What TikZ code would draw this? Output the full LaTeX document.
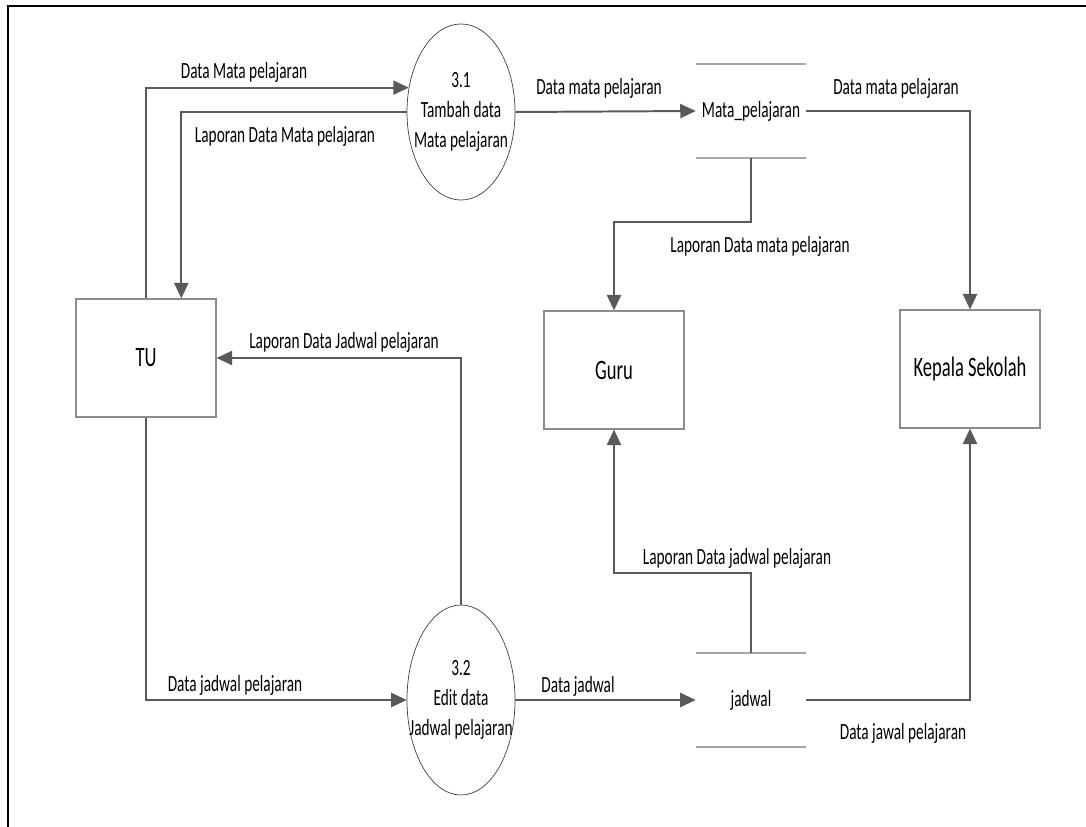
\documentclass[tikz,border=0pt]{standalone}
\usepackage{fontspec}
\setmainfont{Carlito}[FakeStretch=0.66]
\usetikzlibrary{arrows.meta,positioning,calc,shapes.geometric}
\definecolor{lineg}{HTML}{595959}
\definecolor{boxg}{HTML}{8C8C8C}
\definecolor{storeg}{HTML}{A6A6A6}

\begin{document}
\begin{tikzpicture}[x=0.025cm,y=-0.025cm,
  ent/.style={draw=boxg,line width=0.8pt,minimum width=3.5cm,minimum height=2.95cm,
    font=\fontsize{20}{24}\selectfont},
  proc/.style={draw=black!75,ellipse,line width=0.5pt,minimum width=2.7cm,inner sep=0pt},
  store/.style={minimum width=2.75cm,minimum height=2.35cm,inner sep=0pt,
    font=\fontsize{16.5}{20}\selectfont},
  storeline/.style={storeg,line width=1.2pt},
  lbl/.style={font=\fontsize{16.5}{21.3}\selectfont,inner sep=0pt,align=center},
  arr/.style={-{Triangle[length=11pt,width=10pt]},line width=1.4pt,lineg}]
\useasboundingbox (0,0) rectangle (1086,827);
\draw[line width=2.1pt] (8,827) -- (8,6) -- (1086,6);
% entities
\node[ent] (tu) at (146,358) {TU};
\node[ent] (guru) at (614,370) {Guru};
\node[ent] (ks) at (970,369) {Kepala Sekolah};
% processes
\node[proc,minimum height=4.4cm] (p31) at (461,112) {};
\node[lbl] (t31) at (p31) {3.1\\Tambah data\\Mata pelajaran};
\node[proc,minimum height=4.75cm] (p32) at (461,700) {};
\node[lbl] (t32) at (p32) {3.2\\Edit data\\Jadwal pelajaran};
% data stores
\node[store] (ms) at (751,111) {Mata\_pelajaran};
\node[store] (js) at (751,700) {jadwal};
\draw[storeline] (ms.north west) -- (ms.north east) (ms.south west) -- (ms.south east);
\draw[storeline] (js.north west) -- (js.north east) (js.south west) -- (js.south east);
% flows
\draw[arr] (tu.north) |- (p31.155);
\draw[arr] (p31.west) -| ($(tu.north)!0.5!(tu.north east)$);
\draw[arr] (p31.east) -- (ms.west);
\draw[arr] (ms.east) -| (ks.north);
\draw[arr] (ms.south) -- ++(0,64) -| (guru.north);
\draw[arr] (tu.south) |- (p32.west);
\draw[arr] (p32.north) |- (tu.east);
\draw[arr] (p32.east) -- (js.west);
\draw[arr] (js.north) -- ++(0,-80) -| (guru.south);
\draw[arr] (js.east) -| (ks.south);
% labels
\node[lbl] (l1) at (244,72) {Data Mata pelajaran};
\node[lbl] (l2) at (285,136) {Laporan Data Mata pelajaran};
\node[lbl] (l3) at (599,88) {Data mata pelajaran};
\node[lbl] (l4) at (896,88) {Data mata pelajaran};
\node[lbl] (l5) at (760,246) {Laporan Data mata pelajaran};
\node[lbl] (l6) at (344,342) {Laporan Data Jadwal pelajaran};
\node[lbl] (l7) at (737,558) {Laporan Data jadwal pelajaran};
\node[lbl] (l8) at (235,685) {Data jadwal pelajaran};
\node[lbl] (l9) at (578,686) {Data jadwal};
\node[lbl] (l10) at (903,733) {Data jawal pelajaran};
\end{tikzpicture}
\end{document}
